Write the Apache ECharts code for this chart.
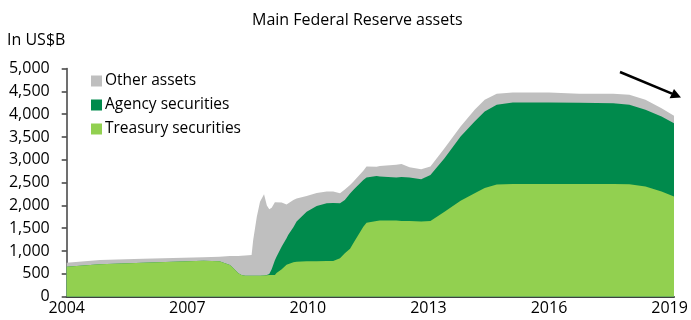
<!DOCTYPE html>
<html>
<head>
<meta charset="utf-8">
<script src="https://cdn.jsdelivr.net/npm/echarts@6/dist/echarts.min.js"></script>
<style>html,body{margin:0;padding:0;background:#fff}#c{width:691px;height:320px}</style>
</head>
<body>
<div id="c"></div>
<script>
const years = [2004.00,2004.83,2005.9,2007.4,2007.8,2008.06,2008.15,2008.27,2008.35,2008.44,2008.6,2008.64,2008.73,2008.81,2008.91,2008.98,2009.04,2009.1,2009.18,2009.22,2009.35,2009.47,2009.51,2009.64,2009.72,2009.97,2010.22,2010.47,2010.63,2010.8,2010.92,2011.05,2011.13,2011.38,2011.46,2011.71,2011.79,2012.2,2012.33,2012.53,2012.82,2013.05,2013.4,2013.8,2014.15,2014.4,2014.7,2015.1,2016.0,2016.75,2017.6,2018.0,2018.4,2018.8,2019.11];
const treasury = [658,710,746,790,775,695,622,513,476,461,461,461,461,461,465,470,475,476,476,520,600,700,730,755,768,775,778,780,783,842,951,1050,1171,1535,1620,1660,1667,1667,1660,1660,1650,1660,1864,2105,2267,2380,2460,2471,2471,2471,2471,2465,2412,2303,2193];
const agency = [0,0,0,0,0,0,0,0,0,0,0,0,0,0,0,6,25,124,324,357,500,581,620,765,877,1089,1211,1268,1272,1206,1170,1210,1169,1024,990,987,965,943,960,950,924,1009,1171,1404,1571,1677,1744,1784,1784,1779,1770,1739,1682,1644,1610];
const other = [88,95,87,74,102,198,268,380,419,439,454,782,1293,1622,1780,1524,1417,1350,1270,1188,962,739,661,601,505,344,281,255,248,219,229,190,180,201,241,203,234,280,290,228,220,182,219,219,256,257,241,219,219,195,204,219,220,184,162];
const xTickLabels = ['2004','2007','2010','2013','2016','2019'];
const seriesNames = ['Treasury securities','Agency securities','Other assets'];
const colors = ['#92d050','#008a4c','#bfbfbf'];

const FONT = '"Open Sans", sans-serif';
// cumulative tops of the stacked bands (drawn back to front)
const topTreasury = treasury.map((v, i) => [years[i], v]);
const topAgency = treasury.map((v, i) => [years[i], v + agency[i]]);
const topOther = treasury.map((v, i) => [years[i], v + agency[i] + other[i]]);
const mk = (name, data, color) => ({
  name, type: 'line', data,
  showSymbol: false, symbol: 'none', smooth: false,
  lineStyle: { width: 0, color }, itemStyle: { color },
  areaStyle: { color, opacity: 1, origin: 'start' }, silent: true
});

const chart = echarts.init(document.getElementById('c'), null, { renderer: 'canvas' });
chart.setOption({
  animation: false,
  textStyle: { fontFamily: FONT },
  title: {
    text: 'Main Federal Reserve assets', left: 247, top: 7,
    textStyle: { fontFamily: FONT, fontSize: 16, fontWeight: 'normal', color: '#000' }
  },
  graphic: [
    { type: 'text', left: 7, top: 32, style: { text: 'In US$B', fontFamily: FONT, fontSize: 16, fill: '#000' } },
    { type: 'line', shape: { x1: 620, y1: 72, x2: 672, y2: 93.6 }, style: { stroke: '#000', lineWidth: 2.5 } },
    { type: 'polygon', shape: { points: [[681, 97.5], [669.6, 98.2], [674, 88.9]] }, style: { fill: '#000' } }
  ],
  legend: {
    data: [seriesNames[2], seriesNames[1], seriesNames[0]],
    orient: 'vertical', left: 86, top: 68, itemWidth: 11, itemHeight: 11, itemGap: 8,
    icon: 'rect', textStyle: { fontFamily: FONT, fontSize: 15.5, lineHeight: 16, color: '#000', padding: [0, 0, 0, -2] }
  },
  grid: { left: 66.7, right: 17, top: 68.5, bottom: 23.3, containLabel: false },
  xAxis: {
    type: 'value', min: 2004, max: 2019.11, interval: 3,
    axisLine: { show: true, lineStyle: { color: '#404040', width: 2 } },
    axisTick: { show: false }, splitLine: { show: false },
    axisLabel: {
      fontFamily: FONT, fontSize: 16, color: '#000', margin: 4,
      formatter: v => { const s = String(Math.round(v)); return (Math.abs(v - Math.round(v)) < 1e-6 && xTickLabels.includes(s)) ? s : ''; }
    }
  },
  yAxis: {
    type: 'value', min: 0, max: 5000, interval: 500,
    axisLine: { show: true, lineStyle: { color: '#404040', width: 1.5 } },
    axisTick: { show: true, length: 5, lineStyle: { color: '#404040', width: 1.5 } },
    splitLine: { show: false },
    axisLabel: { fontFamily: FONT, fontSize: 16, color: '#000', margin: 17, formatter: v => v.toLocaleString('en-US') }
  },
  series: [
    mk(seriesNames[2], topOther, colors[2]),
    mk(seriesNames[1], topAgency, colors[1]),
    mk(seriesNames[0], topTreasury, colors[0])
  ]
});
</script>
</body>
</html>
